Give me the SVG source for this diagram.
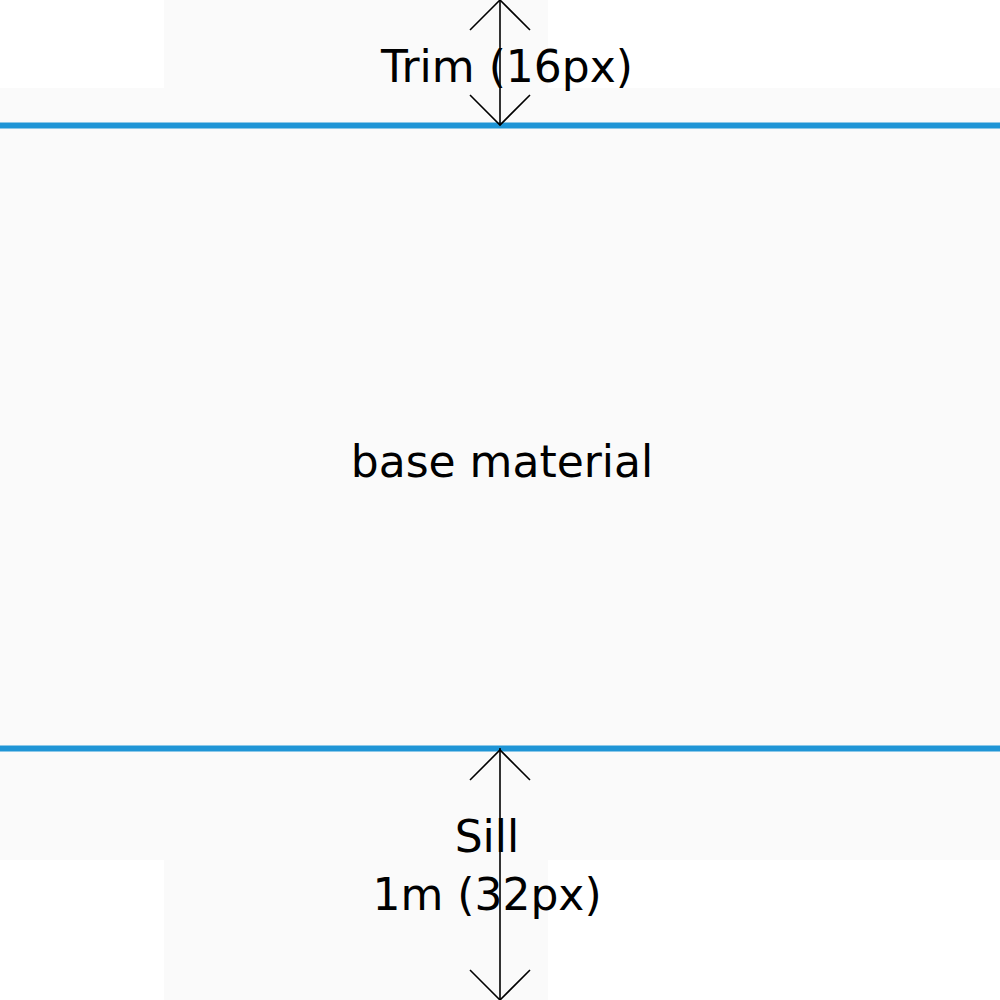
<svg xmlns="http://www.w3.org/2000/svg" width="1000" height="1000" viewBox="0 0 1000 1000">
<style>
.bg{fill:#fafafa;stroke:none}
.wall{stroke:#1f95d6;stroke-width:6;fill:none}
.dim{stroke:#000;stroke-width:1.6;fill:none}
.lbl{font-family:"DejaVu Sans","Noto Sans",sans-serif;font-size:44px;fill:#000;text-anchor:middle}
</style>
<rect width="1000" height="1000" fill="#ffffff"/>
<g id="base">
<rect class="bg" x="164" y="0" width="384" height="88"/>
<rect class="bg" x="0" y="88" width="1000" height="772"/>
<rect class="bg" x="164" y="860" width="384" height="140"/>
<text class="lbl" x="502" y="477">base material</text>
</g>
<g id="trim">
<line class="wall" x1="0" y1="125.5" x2="1000" y2="125.5"/>
<text class="lbl" x="507" y="82">Trim (16px)</text>
</g>
<g id="sill">
<line class="wall" x1="0" y1="748.5" x2="1000" y2="748.5"/>
<text class="lbl" x="487" y="852">Sill</text>
<text class="lbl" x="487" y="910">1m (32px)</text>
</g>
<g id="connectors">
<line class="dim" x1="500" y1="0" x2="500" y2="125"/>
<polyline class="dim" points="470,30 500,0 530,30"/>
<polyline class="dim" points="470,95 500,125 530,95"/>
<line class="dim" x1="500" y1="748" x2="500" y2="1000"/>
<polyline class="dim" points="470,780 500,750 530,780"/>
<polyline class="dim" points="470,970 500,1000 530,970"/>
</g>
</svg>
